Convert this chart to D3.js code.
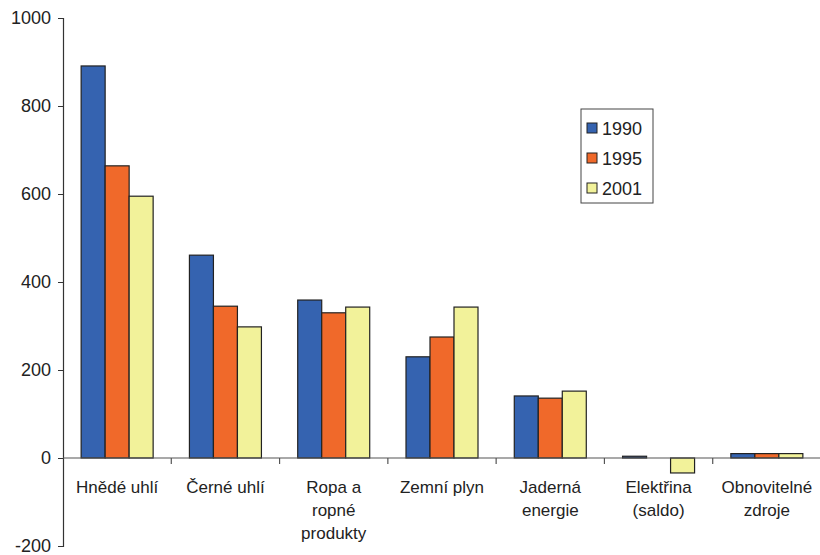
<!DOCTYPE html>
<html>
<head>
<meta charset="utf-8">
<script src="https://cdn.jsdelivr.net/npm/d3@7"></script>
<style>
  body { margin: 0; background: #fff; }
  svg { display: block; font-family: "Liberation Sans", Arial, sans-serif; }
</style>
</head>
<body>
<svg id="chart" width="820" height="555"></svg>
<script>
// Energy sources (categories), label lines split for wrapping
const categories = [
  ["Hnědé uhlí"],
  ["Černé uhlí"],
  ["Ropa a", "ropné", "produkty"],
  ["Zemní plyn"],
  ["Jaderná", "energie"],
  ["Elektřina", "(saldo)"],
  ["Obnovitelné", "zdroje"]
];
const years = ["1990", "1995", "2001"];
const values1990 = [891, 461, 359, 230, 141, 4, 10];
const values1995 = [664, 345, 330, 275, 136, 0, 10];
const values2001 = [595, 298, 343, 343, 152, -34, 10];
const yTicks = [-200, 0, 200, 400, 600, 800, 1000];
const colors = ["#3563b0", "#f0692a", "#f2f29a"];

const series = [values1990, values1995, values2001];
const svg = d3.select("#chart");

const x0 = 63, x1 = 821;
const y = d3.scaleLinear().domain([-200, 1000]).range([546, 18]);
const xBand = d3.scaleBand().domain(d3.range(categories.length)).range([x0, x1]).paddingInner(0).paddingOuter(0);
const groupInner = d3.scaleBand().domain(d3.range(years.length)).range([0, 72]);
const barOffset = (xBand.bandwidth() - 72) / 2;

// Bars
series.forEach((vals, si) => {
  svg.append("g").selectAll("rect")
    .data(vals)
    .join("rect")
    .attr("x", (d, i) => xBand(i) + barOffset + groupInner(si))
    .attr("width", groupInner.bandwidth())
    .attr("y", d => y(Math.max(0, d)))
    .attr("height", d => Math.abs(y(d) - y(0)))
    .attr("fill", colors[si])
    .attr("stroke", "#222")
    .attr("stroke-width", 1.2);
});

// Y axis
const yAxis = d3.axisLeft(y).tickValues(yTicks).tickSize(5).tickPadding(7).tickFormat(d => String(d));
const gy = svg.append("g").attr("transform", `translate(${x0},0)`).call(yAxis);
gy.select(".domain").attr("stroke", "#333").attr("stroke-width", 1.2);
gy.selectAll(".tick line").attr("stroke", "#333");
gy.selectAll(".tick text").attr("font-size", 18).attr("fill", "#222").attr("font-family", "Liberation Sans, Arial, sans-serif");

// Zero line with category separator ticks
const gx = svg.append("g");
gx.append("line")
  .attr("x1", x0).attr("x2", 820)
  .attr("y1", y(0)).attr("y2", y(0))
  .attr("stroke", "#555").attr("stroke-width", 1.2);
gx.selectAll("line.sep")
  .data(d3.range(1, categories.length))
  .join("line")
  .attr("class", "sep")
  .attr("x1", i => xBand(i)).attr("x2", i => xBand(i))
  .attr("y1", y(0)).attr("y2", y(0) + 6)
  .attr("stroke", "#555").attr("stroke-width", 1.2);

// Category labels
categories.forEach((lines, i) => {
  const t = svg.append("text")
    .attr("x", xBand(i) + xBand.bandwidth() / 2)
    .attr("y", 493)
    .attr("text-anchor", "middle")
    .attr("font-size", 17)
    .attr("fill", "#222");
  lines.forEach((ln, li) => {
    t.append("tspan")
      .attr("x", xBand(i) + xBand.bandwidth() / 2)
      .attr("dy", li === 0 ? 0 : 23)
      .text(ln);
  });
});

// Legend
const legend = svg.append("g").attr("transform", "translate(581,109)");
legend.append("rect")
  .attr("width", 72).attr("height", 94)
  .attr("fill", "#fff").attr("stroke", "#444").attr("stroke-width", 1);
years.forEach((yr, i) => {
  const cy = 19 + i * 30;
  legend.append("rect")
    .attr("x", 6).attr("y", cy - 5)
    .attr("width", 10).attr("height", 10)
    .attr("fill", colors[i]).attr("stroke", "#222").attr("stroke-width", 1);
  legend.append("text")
    .attr("x", 21).attr("y", cy + 6.5)
    .attr("font-size", 18).attr("fill", "#222")
    .text(yr);
});
</script>
</body>
</html>
